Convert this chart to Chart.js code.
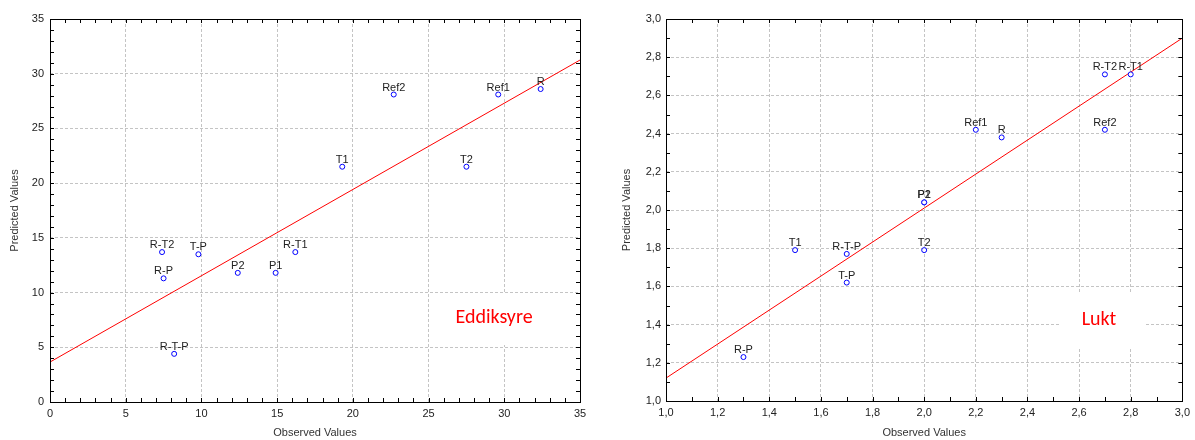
<!DOCTYPE html>
<html>
<head>
<meta charset="utf-8">
<script src="https://cdn.jsdelivr.net/npm/chart.js@4"></script>
<style>
html,body{margin:0;padding:0;background:#fff;overflow:hidden;}
#w1{position:absolute;left:0;top:0;width:600px;height:440px;}
#w2{position:absolute;left:600px;top:0;width:595px;height:440px;}
</style>
</head>
<body>
<div id="w1"><canvas id="c1"></canvas></div>
<div id="w2"><canvas id="c2"></canvas></div>
<script>
// ---- Left chart: Eddiksyre ----
const acidLabels    = ['R', 'Ref1', 'Ref2', 'T1', 'T2', 'R-T2', 'T-P', 'R-T1', 'P2', 'P1', 'R-P', 'R-T-P'];
const acidObserved  = [32.4, 29.6, 22.7, 19.3, 27.5, 7.4, 9.8, 16.2, 12.4, 14.9, 7.5, 8.2];
const acidPredicted = [28.6, 28.1, 28.1, 21.5, 21.5, 13.7, 13.5, 13.7, 11.8, 11.8, 11.3, 4.4];
const acidFitX = [0, 35];
const acidFitY = [3.65, 31.25];
const acidTicks = [0, 5, 10, 15, 20, 25, 30, 35];
const acidTickLabels = ['0', '5', '10', '15', '20', '25', '30', '35'];
const acidTitle = 'Eddiksyre';

// ---- Right chart: Lukt ----
const smellLabels    = ['R-P', 'T1', 'R-T-P', 'T-P', 'P1', 'P2', 'T2', 'Ref1', 'R', 'Ref2', 'R-T2', 'R-T1'];
const smellObserved  = [1.3, 1.5, 1.7, 1.7, 2.0, 2.0, 2.0, 2.2, 2.3, 2.7, 2.7, 2.8];
const smellPredicted = [1.23, 1.79, 1.77, 1.62, 2.04, 2.04, 1.79, 2.42, 2.38, 2.42, 2.71, 2.71];
const smellFitX = [1, 3];
const smellFitY = [1.12, 2.90];
const smellTicks = [1.0, 1.2, 1.4, 1.6, 1.8, 2.0, 2.2, 2.4, 2.6, 2.8, 3.0];
const smellTickLabels = ['1,0', '1,2', '1,4', '1,6', '1,8', '2,0', '2,2', '2,4', '2,6', '2,8', '3,0'];
const smellTitle = 'Lukt';

const xAxisTitle = 'Observed Values';
const yAxisTitle = 'Predicted Values';

const BASE_FONT = '"Liberation Sans", Arial, sans-serif';

const framePlugin = {
  id: 'frameTicks',
  beforeDatasetsDraw(chart, args, opts) {
    if (!opts.box) return;
    const ctx = chart.ctx;
    const b = opts.box;
    ctx.save();
    ctx.fillStyle = '#ffffff';
    ctx.fillRect(b.x, b.y, b.w, b.h);
    ctx.restore();
  },
  afterDatasetsDraw(chart, args, opts) {
    const ctx = chart.ctx;
    const meta = chart.getDatasetMeta(0);
    ctx.save();
    ctx.font = '11px ' + BASE_FONT;
    ctx.fillStyle = '#222';
    ctx.textAlign = 'center';
    ctx.textBaseline = 'alphabetic';
    meta.data.forEach((el, i) => {
      ctx.fillText(opts.labels[i], el.x, el.y - 4);
    });
    ctx.restore();
  },
  afterDraw(chart, args, opts) {
    const ctx = chart.ctx;
    const a = chart.chartArea;
    const xs = chart.scales.x, ys = chart.scales.y;
    ctx.save();
    // red caption
    ctx.font = '20px Carlito, Lato, "Open Sans", sans-serif';
    ctx.fillStyle = '#ff0000';
    ctx.textAlign = 'center';
    ctx.textBaseline = 'middle';
    ctx.fillText(opts.caption, opts.captionX, opts.captionY);
    // frame
    ctx.strokeStyle = '#000';
    ctx.lineWidth = 1;
    ctx.strokeRect(Math.round(a.left) + 0.5, Math.round(a.top) + 0.5,
                   Math.round(a.right) - Math.round(a.left), Math.round(a.bottom) - Math.round(a.top));
    // inward ticks
    const tl = 4;
    ctx.beginPath();
    const nx = Math.round((xs.max - xs.min) / opts.minorX);
    for (let i = 0; i <= nx; i++) {
      const px = Math.round(xs.getPixelForValue(xs.min + i * opts.minorX)) + 0.5;
      ctx.moveTo(px, a.bottom); ctx.lineTo(px, a.bottom - tl);
      ctx.moveTo(px, a.top); ctx.lineTo(px, a.top + tl);
    }
    const ny = Math.round((ys.max - ys.min) / opts.minorY);
    for (let i = 0; i <= ny; i++) {
      const py = Math.round(ys.getPixelForValue(ys.min + i * opts.minorY)) + 0.5;
      ctx.moveTo(a.left, py); ctx.lineTo(a.left + tl, py);
      ctx.moveTo(a.right, py); ctx.lineTo(a.right - tl, py);
    }
    ctx.stroke();
    ctx.restore();
  }
};

function makeChart(canvasId, d) {
  const tickFont = { family: BASE_FONT, size: 11 };
  const points = d.obs.map((x, i) => ({ x: x, y: d.pred[i] }));
  const fit = d.fitX.map((x, i) => ({ x: x, y: d.fitY[i] }));
  return new Chart(document.getElementById(canvasId), {
    type: 'scatter',
    data: {
      datasets: [
        {
          data: points,
          pointStyle: 'circle',
          pointRadius: 2.5,
          pointBorderWidth: 1,
          pointBorderColor: '#0000ff',
          pointBackgroundColor: '#ffffff',
          borderColor: '#0000ff',
          backgroundColor: '#ffffff'
        },
        {
          type: 'line',
          data: fit,
          showLine: true,
          pointRadius: 0,
          borderColor: '#ff0000',
          borderWidth: 1,
          fill: false
        }
      ]
    },
    options: {
      responsive: true,
      maintainAspectRatio: false,
      animation: false,
      events: [],
      layout: { padding: { left: 0, right: d.padRight, top: 19, bottom: 0 } },
      plugins: {
        legend: { display: false },
        tooltip: { enabled: false },
        frameTicks: {
          labels: d.labels, minorX: d.minorX, minorY: d.minorY,
          caption: d.caption, captionX: d.captionX, captionY: d.captionY, box: d.box
        }
      },
      scales: {
        x: {
          type: 'linear', min: d.ticks[0], max: d.ticks[d.ticks.length - 1],
          afterBuildTicks: s => { s.ticks = d.ticks.map(v => ({ value: v })); },
          afterFit: s => { s.height = d.xAxisH; },
          ticks: { callback: (v, i) => d.tickLabels[i], font: tickFont, color: '#222', padding: 5, maxRotation: 0, autoSkip: false },
          grid: { color: '#c4c4c4', lineWidth: 1, drawTicks: false },
          border: { display: false, dash: [3, 2] },
          title: { display: true, text: xAxisTitle, font: tickFont, color: '#333', padding: { top: 0, bottom: 0 } }
        },
        y: {
          type: 'linear', min: d.ticks[0], max: d.ticks[d.ticks.length - 1],
          afterBuildTicks: s => { s.ticks = d.ticks.map(v => ({ value: v })); },
          afterFit: s => { s.width = d.yAxisW; },
          ticks: { callback: (v, i) => d.tickLabels[i], font: tickFont, color: '#222', padding: d.yPad, autoSkip: false },
          grid: { color: '#c4c4c4', lineWidth: 1, drawTicks: false },
          border: { display: false, dash: [3, 2] },
          title: { display: true, text: yAxisTitle, font: tickFont, color: '#333', padding: { top: d.yTitlePad, bottom: 0 } }
        }
      }
    },
    plugins: [framePlugin]
  });
}

makeChart('c1', {
  labels: acidLabels, obs: acidObserved, pred: acidPredicted,
  fitX: acidFitX, fitY: acidFitY, ticks: acidTicks, tickLabels: acidTickLabels,
  minorX: 1, minorY: 1, padRight: 20, xAxisH: 38, yAxisW: 50, yPad: 6, yTitlePad: 8,
  caption: acidTitle, captionX: 494, captionY: 318, box: { x: 437, y: 294, w: 114, h: 51 }
});

makeChart('c2', {
  labels: smellLabels, obs: smellObserved, pred: smellPredicted,
  fitX: smellFitX, fitY: smellFitY, ticks: smellTicks, tickLabels: smellTickLabels,
  minorX: 0.1, minorY: 0.1, padRight: 6, xAxisH: 39, yAxisW: 66, yPad: 5, yTitlePad: 20,
  caption: smellTitle, captionX: 499, captionY: 320, box: { x: 460, y: 293, w: 86, h: 54 }
});
</script>
</body>
</html>
